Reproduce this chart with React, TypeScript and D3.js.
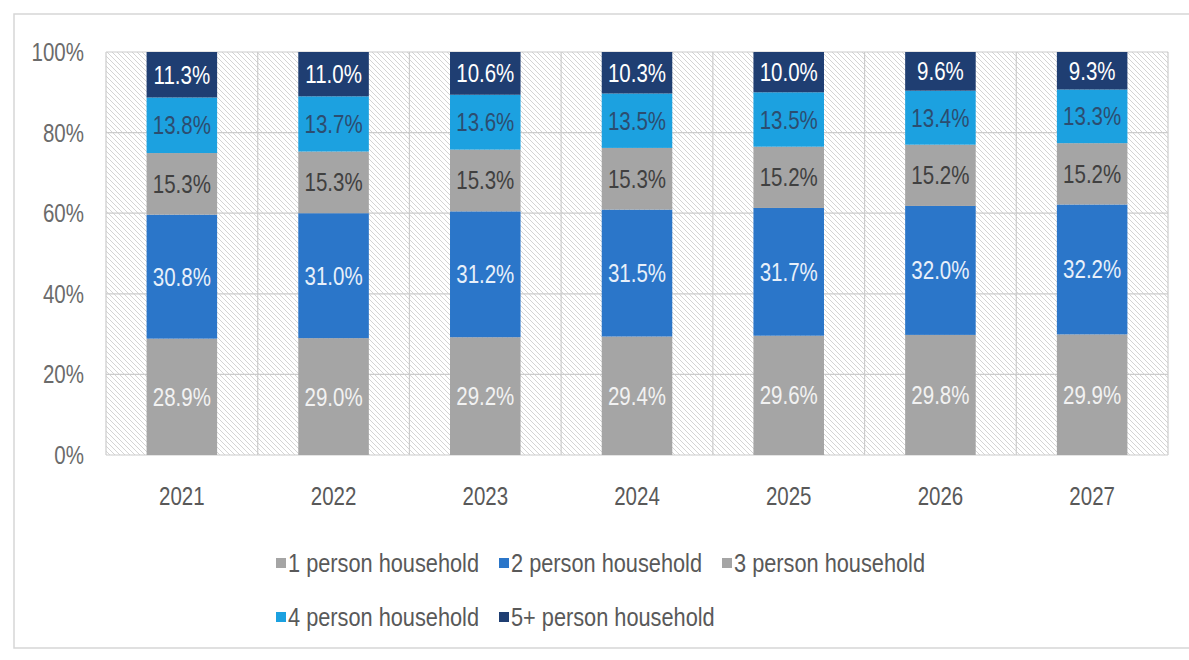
import { useRef, useEffect } from "react";
import * as d3 from "d3";

const years = ["2021", "2022", "2023", "2024", "2025", "2026", "2027"];
const seriesNames = [
  "1 person household",
  "2 person household",
  "3 person household",
  "4 person household",
  "5+ person household",
];
const onePerson = [28.9, 29.0, 29.2, 29.4, 29.6, 29.8, 29.9];
const twoPerson = [30.8, 31.0, 31.2, 31.5, 31.7, 32.0, 32.2];
const threePerson = [15.3, 15.3, 15.3, 15.3, 15.2, 15.2, 15.2];
const fourPerson = [13.8, 13.7, 13.6, 13.5, 13.5, 13.4, 13.3];
const fivePlus = [11.3, 11.0, 10.6, 10.3, 10.0, 9.6, 9.3];
const yTicks = [0, 0.2, 0.4, 0.6, 0.8, 1];

const COLORS = ["#a5a5a5", "#2b76c9", "#a5a5a5", "#1ca1e0", "#1f3e72"];
const LABEL_COLORS = ["#f2f2f2", "#e8f0fa", "#404040", "#2c4d70", "#ffffff"];
// no narrow font installed, so Liberation Sans is squeezed horizontally
const FONT = "'Liberation Sans', Arial, sans-serif";
const SQUEEZE = 0.82;

const W = 1189;
const H = 660;

export default function App() {
  const svgRef = useRef<SVGSVGElement>(null);

  useEffect(() => {
    if (!svgRef.current) return;
    const svg = d3.select(svgRef.current);
    svg.selectAll("*").remove();

    const margin = { top: 52, left: 106, right: 21, bottom: 205 };
    const x0 = margin.left;
    const x1 = W - margin.right;
    const y0 = H - margin.bottom;
    const y1 = margin.top;

    const all = [onePerson, twoPerson, threePerson, fourPerson, fivePlus];
    const rows = years.map((yr, i) => {
      const r: Record<string, number | string> = { year: yr };
      seriesNames.forEach((s, k) => (r[s] = all[k][i]));
      return r;
    });

    const stack = d3
      .stack<Record<string, number | string>>()
      .keys(seriesNames)
      .value((d, key) => d[key] as number)
      .offset(d3.stackOffsetExpand);
    const layers = stack(rows);

    const x = d3.scaleBand().domain(years).range([x0, x1]).paddingInner(0).paddingOuter(0);
    const y = d3.scaleLinear().domain([0, 1]).range([y0, y1]);
    const barW = x.bandwidth() * 0.465;
    const cx = (yr: string) => (x(yr) as number) + x.bandwidth() / 2;
    const at = (px: number, py: number, sq = SQUEEZE) =>
      `translate(${px},${py}) scale(${sq},1)`;

    // outer frame
    svg
      .append("rect")
      .attr("x", 14)
      .attr("y", 14)
      .attr("width", W)
      .attr("height", 634)
      .attr("fill", "#fff")
      .attr("stroke", "#d6d6d6")
      .attr("stroke-width", 1.5);

    // hatch pattern
    const defs = svg.append("defs");
    const pat = defs
      .append("pattern")
      .attr("id", "hatch")
      .attr("patternUnits", "userSpaceOnUse")
      .attr("width", 5)
      .attr("height", 5);
    pat.append("rect").attr("width", 5).attr("height", 5).attr("fill", "#fff");
    pat
      .append("path")
      .attr("d", "M-1,-1 L6,6 M-1,4 L1,6 M4,-1 L6,1")
      .attr("stroke", "#cfcfcf")
      .attr("stroke-width", 0.9);

    svg
      .append("rect")
      .attr("x", x0)
      .attr("y", y1)
      .attr("width", x1 - x0)
      .attr("height", y0 - y1)
      .attr("fill", "url(#hatch)");

    // grid
    const g = svg.append("g");
    g.selectAll("line.h")
      .data(yTicks)
      .enter()
      .append("line")
      .attr("x1", x0)
      .attr("x2", x1)
      .attr("y1", (d) => y(d))
      .attr("y2", (d) => y(d))
      .attr("stroke", "#cccccc")
      .attr("stroke-width", 1.2);

    const bounds = years.map((yr) => x(yr) as number).concat([x1]);
    g.selectAll("line.v")
      .data(bounds)
      .enter()
      .append("line")
      .attr("x1", (d) => d)
      .attr("x2", (d) => d)
      .attr("y1", y1)
      .attr("y2", y0)
      .attr("stroke", "#cccccc")
      .attr("stroke-width", 1.2);

    // bars + labels
    layers.forEach((layer, k) => {
      const lg = svg.append("g");
      lg.selectAll("rect")
        .data(layer)
        .enter()
        .append("rect")
        .attr("x", (d) => cx(d.data.year as string) - barW / 2)
        .attr("y", (d) => y(d[1]))
        .attr("width", barW)
        .attr("height", (d) => y(d[0]) - y(d[1]))
        .attr("fill", COLORS[k]);

      lg.selectAll("text")
        .data(layer)
        .enter()
        .append("text")
        .attr("transform", (d) => at(cx(d.data.year as string), (y(d[0]) + y(d[1])) / 2))
        .attr("dy", "0.36em")
        .attr("text-anchor", "middle")
        .attr("font-family", FONT)
        .attr("font-size", 25)
        .attr("fill", LABEL_COLORS[k])
        .text((d, i) => `${all[k][i].toFixed(1)}%`);
    });

    // y axis labels
    svg
      .append("g")
      .selectAll("text")
      .data(yTicks)
      .enter()
      .append("text")
      .attr("transform", (d) => at(84, y(d)))
      .attr("dy", "0.36em")
      .attr("text-anchor", "end")
      .attr("font-family", FONT)
      .attr("font-size", 25)
      .attr("fill", "#6b6b6b")
      .text((d) => d3.format(".0%")(d));

    // x axis labels
    svg
      .append("g")
      .selectAll("text")
      .data(years)
      .enter()
      .append("text")
      .attr("transform", (d) => at(cx(d), 496))
      .attr("dy", "0.36em")
      .attr("text-anchor", "middle")
      .attr("font-family", FONT)
      .attr("font-size", 25)
      .attr("fill", "#595959")
      .text((d) => d);

    // legend
    const legendCol = d3.scaleLinear().domain([0, 1]).range([276, 499]);
    const legendRow = d3.scaleLinear().domain([0, 1]).range([563, 617]);
    const items = seriesNames.map((name, k) => ({
      name,
      k,
      col: k < 3 ? k : k - 3,
      row: k < 3 ? 0 : 1,
    }));
    const leg = svg
      .append("g")
      .selectAll("g")
      .data(items)
      .enter()
      .append("g")
      .attr("transform", (d) => `translate(${legendCol(d.col)},${legendRow(d.row)})`);
    leg
      .append("rect")
      .attr("x", 0)
      .attr("y", -5)
      .attr("width", 10)
      .attr("height", 10)
      .attr("fill", (d) => COLORS[d.k]);
    leg
      .append("text")
      .attr("transform", at(12, 0, 0.87))
      .attr("dy", "0.36em")
      .attr("font-family", FONT)
      .attr("font-size", 25)
      .attr("fill", "#595959")
      .text((d) => d.name);
  }, []);

  return (
    <svg
      ref={svgRef}
      width={W}
      height={H}
      style={{ position: "absolute", left: 0, top: 0, display: "block" }}
    />
  );
}
